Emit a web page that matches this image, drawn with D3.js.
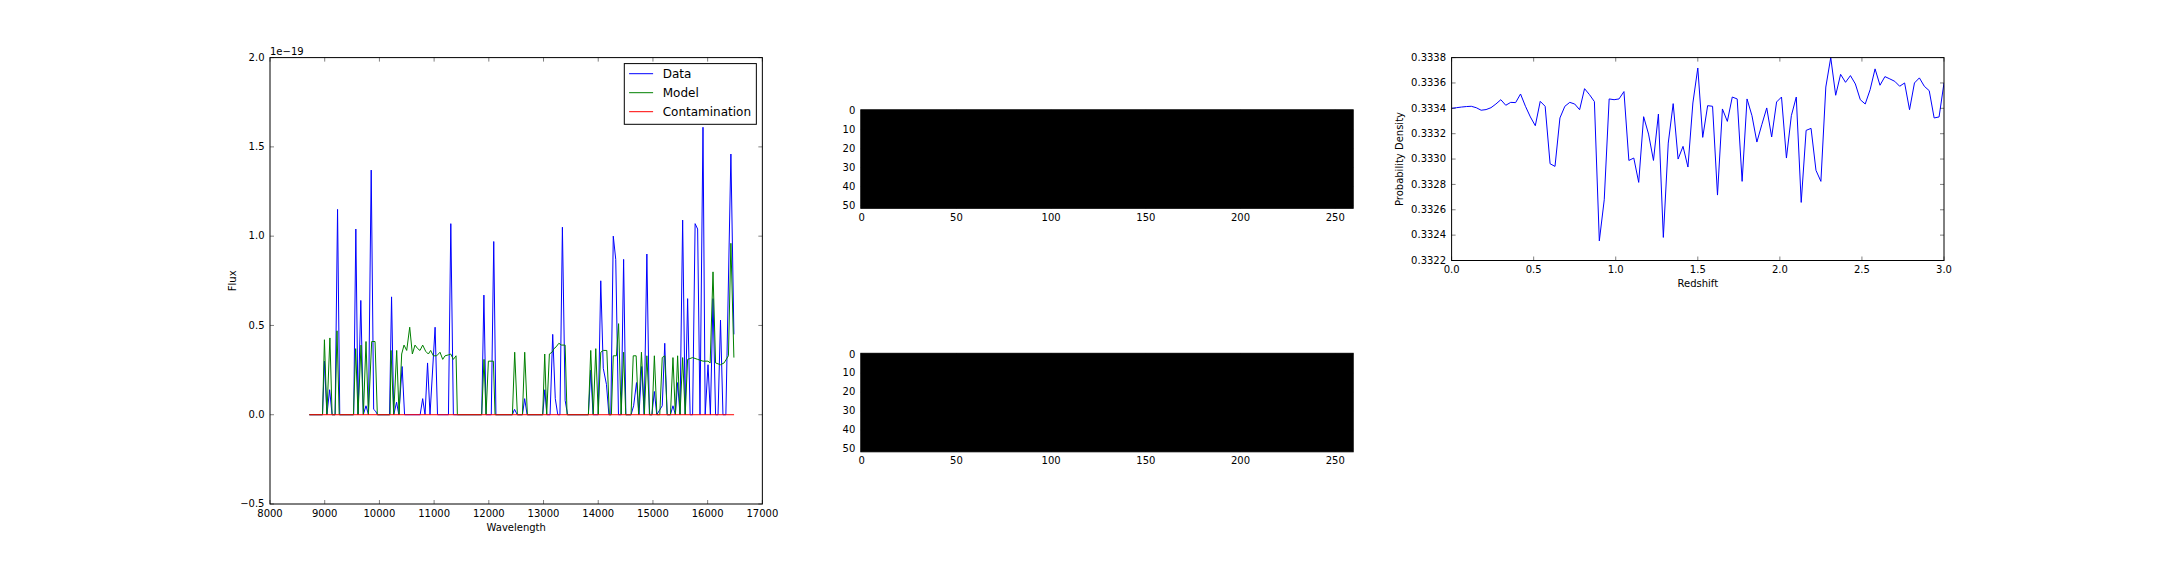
<!DOCTYPE html>
<html>
<head>
<meta charset="utf-8">
<script src="https://cdn.jsdelivr.net/npm/d3@7"></script>
<style>
  html, body { margin: 0; padding: 0; background: #ffffff; }
  svg { display: block; font-family: "DejaVu Sans", sans-serif; }
</style>
</head>
<body>
<svg id="chart" width="2160" height="576"></svg>
<script>
// ---------------- DATA ----------------
// Spectrum panel (flux in units of 1e-19)
const dataWave = [8719,8960,8995,9040,9090,9135,9190,9235,9275,9530,9569,9610,9660,9705,9755,9800,9850,9895,9930,9965,
  10185,10222,10262,10314,10355,10415,10460,10745,10791,10834,10880,10925,11018,11062,11262,11305,11352,
  11870,11910,11950,12045,12090,12130,12430,12470,12520,12615,12655,12700,12985,13024,13060,13120,13168,13215,13260,
  13300,13345,13395,13440,13820,13863,13905,14000,14046,14092,14150,14195,14230,14275,14320,14370,14420,14464,14505,
  14600,14647,14700,14745,14795,14840,14889,14935,14980,15026,15070,15170,15216,15260,15320,15366,15410,15451,15495,
  15543,15590,15634,15680,15725,15771,15817,15860,15915,15955,16007,16050,16098,16145,16190,16235,16280,16333,16425,16480];
const dataFlux = [0,0,0.30,0,0.14,0,0,1.15,0,0,1.04,0,0.64,0,0.05,0,1.37,0.03,0.02,0,
  0,0.66,0,0.07,0,0.27,0,0,0.09,0,0.29,0,0.49,0,0,1.07,0,
  0,0.67,0,0,0.97,0,0,0.03,0,0,0.09,0,0,0.14,0,0,0.45,0.09,0,
  0,1.05,0.08,0,0,0.25,0,0,0.75,0.26,0.17,0,0,1.00,0.87,0,0,0.87,0,
  0,0.05,0.18,0,0.27,0,0.90,0,0,0.13,0,0.05,0.40,0,0,0.05,0,0.18,0,
  1.09,0,0.65,0,0,1.07,1.04,0,1.61,0,0.28,0,0.65,0,0,0.53,0,0,1.46,0.45];

const modelWave = [8719,8960,8995,9040,9095,9135,9190,9225,9265,9525,9566,9609,9664,9707,9755,9798,9859,9920,9962,
  10195,10212,10261,10316,10359,10407,10450,10499,10554,10602,10651,10700,10742,10791,10846,10895,10937,10986,
  11047,11108,11157,11200,11261,11303,11352,11401,11425,11870,11912,11949,11992,12083,12114,12431,12473,12522,
  12614,12656,12705,12985,13022,13058,13107,13156,13192,13230,13280,13330,13395,13430,13820,13863,13909,13955,
  14000,14046,14092,14157,14203,14240,14275,14333,14372,14418,14464,14503,14600,14640,14693,14738,14790,14843,
  14889,14941,14985,15026,15072,15125,15170,15216,15260,15320,15366,15410,15451,15495,15543,15590,15634,15726,
  15817,15915,16007,16046,16098,16145,16235,16300,16380,16425,16480];
const modelFlux = [0,0,0.42,0,0.43,0,0,0.47,0,0,0.37,0,0.39,0,0.41,0,0.41,0.41,0,
  0,0.36,0,0.36,0,0.34,0.39,0.36,0.49,0.34,0.39,0.37,0.36,0.39,0.355,0.34,0.36,0.33,
  0.33,0.35,0.31,0.33,0.335,0.34,0.31,0.33,0,0,0.31,0,0.30,0.30,0,0,0.35,0,
  0,0.35,0,0,0.34,0,0.34,0.35,0.37,0.38,0.40,0.39,0.39,0,0,0.36,0,0.37,
  0,0.35,0.36,0.36,0,0,0.33,0.33,0.51,0,0.35,0,0,0.33,0.33,0,0.35,0,
  0.33,0,0,0.33,0,0,0.32,0.33,0,0,0.32,0,0.33,0,0.32,0,0.31,0.32,
  0.31,0.30,0.30,0.29,0.80,0.29,0.28,0.29,0.33,0.96,0.32];

const contamWave = [8719, 16483];
const contamFlux = [0, 0];

const seriesNames = ["Data", "Model", "Contamination"];
const seriesColors = ["#0000ff", "#008000", "#ff0000"];

const specXTicks = [8000,9000,10000,11000,12000,13000,14000,15000,16000,17000];
const specYTicks = [-0.5,0.0,0.5,1.0,1.5,2.0];

// 2D spectra images (rows x columns)
const imgCols = 260;
const imgRows = 52;
const imgXTicks = [0,50,100,150,200,250];
const imgYTicks = [0,10,20,30,40,50];

// Redshift probability panel
const redshift = [0.00,0.03,0.06,0.09,0.12,0.15,0.18,0.21,0.24,0.27,0.30,0.33,0.36,0.39,0.42,0.45,0.48,0.51,0.54,0.57,
  0.60,0.63,0.66,0.69,0.72,0.75,0.78,0.81,0.84,0.87,0.90,0.93,0.96,0.99,1.02,1.05,1.08,1.11,1.14,1.17,
  1.20,1.23,1.26,1.29,1.32,1.35,1.38,1.41,1.44,1.47,1.50,1.53,1.56,1.59,1.62,1.65,1.68,1.71,1.74,1.77,
  1.80,1.83,1.86,1.89,1.92,1.95,1.98,2.01,2.04,2.07,2.10,2.13,2.16,2.19,2.22,2.25,2.28,2.31,2.34,2.37,
  2.40,2.43,2.46,2.49,2.52,2.55,2.58,2.61,2.64,2.67,2.70,2.73,2.76,2.79,2.82,2.85,2.88,2.91,2.94,2.97,3.00];
const probDensity = [0.333400,0.333405,0.333410,0.333414,0.333416,0.333405,0.333385,0.333390,0.333405,0.333434,
  0.333468,0.333424,0.333447,0.333445,0.333513,0.333416,0.333332,0.333263,0.333455,0.333416,
  0.332963,0.332942,0.333324,0.333416,0.333447,0.333434,0.333389,0.333555,0.333508,0.333453,
  0.332355,0.332679,0.333474,0.333468,0.333474,0.333532,0.332989,0.333008,0.332816,0.333334,
  0.333197,0.332989,0.333355,0.332382,0.333126,0.333437,0.333000,0.333100,0.332937,0.333442,
  0.333718,0.333171,0.333421,0.333416,0.332716,0.333395,0.333297,0.333489,0.333474,0.332824,
  0.333474,0.333342,0.333134,0.333271,0.333403,0.333174,0.333450,0.333489,0.333008,0.333342,
  0.333489,0.332658,0.333226,0.333242,0.332911,0.332824,0.333568,0.333800,0.333503,0.333668,
  0.333605,0.333658,0.333592,0.333468,0.333434,0.333547,0.333711,0.333582,0.333650,0.333632,
  0.333613,0.333574,0.333600,0.333389,0.333600,0.333640,0.333574,0.333539,0.333324,0.333332,0.333600];
const zXTicks = [0.0,0.5,1.0,1.5,2.0,2.5,3.0];
const zYTicks = [0.3322,0.3324,0.3326,0.3328,0.3330,0.3332,0.3334,0.3336,0.3338];

// ---------------- LAYOUT ----------------
const svg = d3.select("#chart");
const FS = 10;
const minus = s => s.replace("-", "\u2212");

const P1 = {x0: 270, x1: 762.35, y0: 57.6, y1: 504};
const P3 = {x0: 1451.6, x1: 1944, y0: 57.6, y1: 260.5};
const MIDX = {x0: 860.8, x1: 1353.2};
const rowH = 202.9;
const rowTops = [57.6, 301.1];

function frame(g, box, xScale, yScale, xTicks, yTicks, xFmt, yFmt) {
  const tl = 4;
  // ticks (inside, all four sides)
  xTicks.forEach(t => {
    const x = xScale(t);
    g.append("line").attr("x1", x).attr("x2", x).attr("y1", box.y1).attr("y2", box.y1 - tl)
      .attr("stroke", "#000").attr("stroke-width", 0.5);
    g.append("line").attr("x1", x).attr("x2", x).attr("y1", box.y0).attr("y2", box.y0 + tl)
      .attr("stroke", "#000").attr("stroke-width", 0.5);
    g.append("text").attr("x", x).attr("y", box.y1 + 12.7).attr("text-anchor", "middle")
      .attr("font-size", FS).text(xFmt(t));
  });
  yTicks.forEach(t => {
    const y = yScale(t);
    g.append("line").attr("x1", box.x0).attr("x2", box.x0 + tl).attr("y1", y).attr("y2", y)
      .attr("stroke", "#000").attr("stroke-width", 0.5);
    g.append("line").attr("x1", box.x1).attr("x2", box.x1 - tl).attr("y1", y).attr("y2", y)
      .attr("stroke", "#000").attr("stroke-width", 0.5);
    g.append("text").attr("x", box.x0 - 5.5).attr("y", y + 3.3).attr("text-anchor", "end")
      .attr("font-size", FS).text(yFmt(t));
  });
  g.append("rect").attr("x", box.x0).attr("y", box.y0)
    .attr("width", box.x1 - box.x0).attr("height", box.y1 - box.y0)
    .attr("fill", "none").attr("stroke", "#000").attr("stroke-width", 1);
}

// ---------------- PANEL 1: spectrum ----------------
{
  const g = svg.append("g");
  const x = d3.scaleLinear().domain([8000, 17000]).range([P1.x0, P1.x1]);
  const y = d3.scaleLinear().domain([-0.5, 2.0]).range([P1.y1, P1.y0]);
  const line = d3.line().x(d => x(d[0])).y(d => y(d[1]));
  const series = [
    d3.zip(dataWave, dataFlux),
    d3.zip(modelWave, modelFlux),
    d3.zip(contamWave, contamFlux)
  ];
  series.forEach((s, i) => {
    g.append("path").attr("d", line(s)).attr("fill", "none")
      .attr("stroke", seriesColors[i]).attr("stroke-width", 1).attr("stroke-linejoin", "miter");
  });
  frame(g, P1, x, y, specXTicks, specYTicks, d => String(d), d => minus(d.toFixed(1)));
  g.append("text").attr("x", 270).attr("y", 54.5).attr("font-size", FS).text("1e\u221219");
  g.append("text").attr("x", (P1.x0 + P1.x1) / 2).attr("y", 530.5).attr("text-anchor", "middle")
    .attr("font-size", FS).text("Wavelength");
  g.append("text").attr("transform", `translate(236,${(P1.y0 + P1.y1) / 2}) rotate(-90)`)
    .attr("text-anchor", "middle").attr("font-size", FS).text("Flux");

  // legend
  const lg = g.append("g");
  lg.append("rect").attr("x", 624.3).attr("y", 63.6).attr("width", 132.05).attr("height", 60.7)
    .attr("fill", "#fff").attr("stroke", "#000").attr("stroke-width", 1);
  const rowsY = [73.7, 92.7, 111.7];
  seriesNames.forEach((n, i) => {
    lg.append("line").attr("x1", 629.1).attr("x2", 653.1).attr("y1", rowsY[i]).attr("y2", rowsY[i])
      .attr("stroke", seriesColors[i]).attr("stroke-width", 1);
    lg.append("text").attr("x", 662.7).attr("y", rowsY[i] + 4.4).attr("font-size", 12).text(n);
  });
}

// ---------------- PANEL 2: two images ----------------
rowTops.forEach(top => {
  const g = svg.append("g");
  const w = MIDX.x1 - MIDX.x0;
  const h = w * imgRows / imgCols;
  const cy = top + rowH / 2;
  const box = {x0: MIDX.x0, x1: MIDX.x1, y0: cy - h / 2, y1: cy + h / 2};
  const x = d3.scaleLinear().domain([-0.5, imgCols - 0.5]).range([box.x0, box.x1]);
  const y = d3.scaleLinear().domain([-0.5, imgRows - 0.5]).range([box.y0, box.y1]);
  g.append("rect").attr("x", x(-0.5)).attr("y", y(-0.5))
    .attr("width", x(imgCols - 0.5) - x(-0.5)).attr("height", y(imgRows - 0.5) - y(-0.5))
    .attr("fill", "#000");
  frame(g, box, x, y, imgXTicks, imgYTicks, d => String(d), d => String(d));
});

// ---------------- PANEL 3: redshift PDF ----------------
{
  const g = svg.append("g");
  const x = d3.scaleLinear().domain([0, 3]).range([P3.x0, P3.x1]);
  const y = d3.scaleLinear().domain([0.3322, 0.3338]).range([P3.y1, P3.y0]);
  const line = d3.line().x(d => x(d[0])).y(d => y(d[1]));
  const clipId = "clip3";
  g.append("clipPath").attr("id", clipId).append("rect")
    .attr("x", P3.x0).attr("y", P3.y0).attr("width", P3.x1 - P3.x0).attr("height", P3.y1 - P3.y0);
  g.append("path").attr("d", line(d3.zip(redshift, probDensity))).attr("fill", "none")
    .attr("stroke", "#0000ff").attr("stroke-width", 1).attr("clip-path", `url(#${clipId})`);
  frame(g, P3, x, y, zXTicks, zYTicks, d => d.toFixed(1), d => d.toFixed(4));
  g.append("text").attr("x", (P3.x0 + P3.x1) / 2).attr("y", 287).attr("text-anchor", "middle")
    .attr("font-size", FS).text("Redshift");
  g.append("text").attr("transform", `translate(1403,${(P3.y0 + P3.y1) / 2}) rotate(-90)`)
    .attr("text-anchor", "middle").attr("font-size", FS).text("Probability Density");
}
</script>
</body>
</html>
